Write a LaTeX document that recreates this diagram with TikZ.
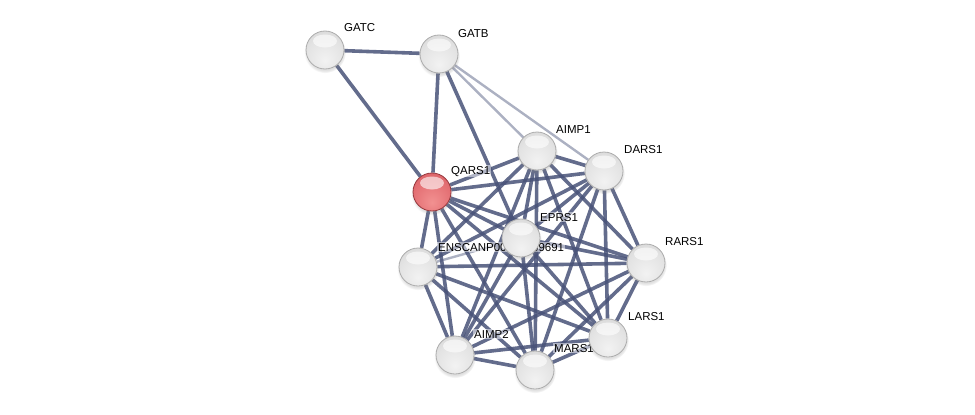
\documentclass[tikz,border=0pt]{standalone}
\usepackage{fontspec}
\setmainfont{Liberation Sans}
\usetikzlibrary{shadows}
\pgfdeclarelayer{edges}
\pgfdeclarelayer{labels}
\pgfsetlayers{edges,labels,main}
\definecolor{edgeblue}{RGB}{72,82,120}
\definecolor{seedrim}{RGB}{150,55,60}
\pgfdeclareradialshading{protshade}{\pgfpoint{0bp}{-14bp}}{%
  color(0bp)=(gray!10); color(25bp)=(gray!22); color(45bp)=(gray!36);
  color(62bp)=(gray!52); color(80bp)=(gray!52)}
\pgfdeclareradialshading{seedshade}{\pgfpoint{0bp}{-14bp}}{%
  color(0bp)=(rgb,255:red,242;green,145;blue,145); color(25bp)=(rgb,255:red,228;green,112;blue,116);
  color(45bp)=(rgb,255:red,210;green,88;blue,94); color(62bp)=(rgb,255:red,180;green,66;blue,72);
  color(80bp)=(rgb,255:red,180;green,66;blue,72)}
\tikzset{
  gloss/.style={path picture={
    \fill[white,opacity=0.6,shift={(path picture bounding box.center)}]
      (0,-9) ellipse [x radius=12,y radius=6.5];}},
  prot/.style={circle,minimum size=38pt,inner sep=0pt,shading=protshade,
    draw=gray!65,line width=0.8pt,gloss,
    circular drop shadow={shadow xshift=0pt,shadow yshift=-2pt,opacity=0.25}},
  seed/.style={prot,shading=seedshade,draw=seedrim},
  lnk/.style={line width=3.6pt,draw=edgeblue,draw opacity=0.85},
  weak/.style={line width=2.4pt,draw=edgeblue,draw opacity=0.45},
  lbl/.style={font=\fontsize{11.5}{13}\selectfont,anchor=base west,inner sep=1pt,
    fill=white,fill opacity=0.5,text opacity=1}
}
\begin{document}
\begin{tikzpicture}[x=1pt,y=-1pt]
  \useasboundingbox (0,0) rectangle (975,415);
  % proteins
  \node[prot] (gatc) at (325,50) {};
  \node[prot] (gatb) at (439,54) {};
  \node[prot] (aimpa) at (537,151) {};
  \node[prot] (dars) at (604,171) {};
  \node[seed] (qars) at (432,192) {};
  \node[prot] (ens) at (418,267) {};
  \node[prot] (eprs) at (521,238) {};
  \node[prot] (rars) at (646,263) {};
  \node[prot] (lars) at (608,338) {};
  \node[prot] (aimpb) at (455,355) {};
  \node[prot] (mars) at (535,370) {};
  % names
  \begin{pgfonlayer}{labels}
    \node[lbl] at (343,31) {GATC};
    \node[lbl] at (457,37) {GATB};
    \node[lbl] at (555,133) {AIMP1};
    \node[lbl] at (623,153) {DARS1};
    \node[lbl] at (450,174) {QARS1};
    \node[lbl] at (539,221) {EPRS1};
    \node[lbl] at (437,251) {ENSCANP00000009691};
    \node[lbl] at (664,245) {RARS1};
    \node[lbl] at (627,320) {LARS1};
    \node[lbl] at (473,338) {AIMP2};
    \node[lbl] at (553,352) {MARS1};
  \end{pgfonlayer}
  % interactions
  \begin{pgfonlayer}{edges}
    \draw[lnk] (gatc) -- (gatb);
    \draw[lnk] (gatc) -- (qars);
    \draw[lnk] (gatb) -- (qars);
    \draw[lnk] (gatb) -- (eprs);
    \draw[weak] (gatb) -- (aimpa);
    \draw[weak] (gatb) -- (dars);
    \foreach \a/\b in {qars/aimpa,qars/dars,qars/eprs,qars/ens,qars/rars,qars/lars,
        qars/aimpb,qars/mars,aimpa/dars,aimpa/eprs,aimpa/ens,aimpa/rars,aimpa/lars,
        aimpa/aimpb,aimpa/mars,dars/eprs,dars/ens,dars/rars,dars/lars,dars/aimpb,
        dars/mars,eprs/rars,eprs/lars,eprs/aimpb,eprs/mars,ens/rars,ens/lars,
        ens/aimpb,ens/mars,rars/lars,rars/aimpb,rars/mars,lars/aimpb,lars/mars,
        aimpb/mars}
      \draw[lnk] (\a) -- (\b);
    \draw[weak] (ens) -- (eprs);
  \end{pgfonlayer}
\end{tikzpicture}
\end{document}
